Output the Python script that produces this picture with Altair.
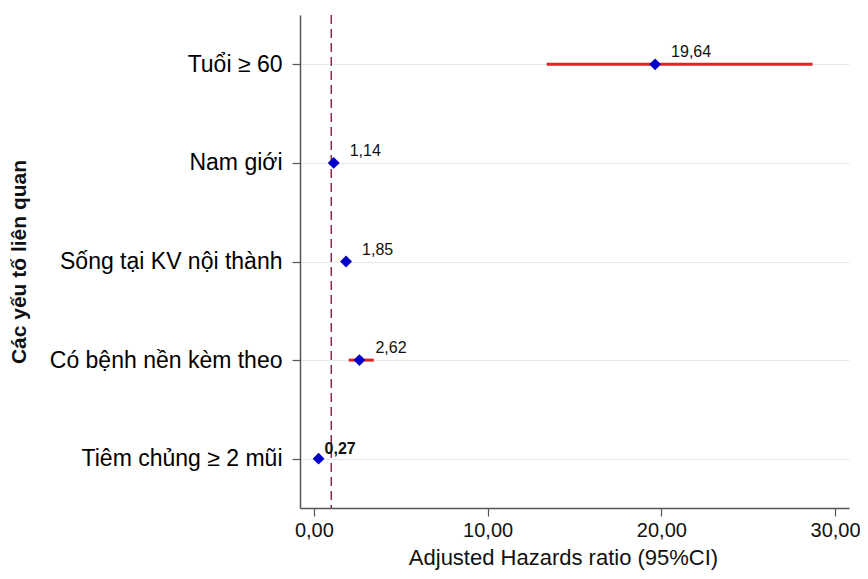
import altair as alt
import pandas as pd

factors = ["Tuổi ≥ 60", "Nam giới", "Sống tại KV nội thành", "Có bệnh nền kèm theo", "Tiêm chủng ≥ 2 mũi"]
hr = [19.64, 1.14, 1.85, 2.62, 0.27]
ci_low = [13.4, 0.88, 1.58, 2.0, 0.14]
ci_high = [28.7, 1.42, 2.14, 3.45, 0.52]
bold_label = [False, False, False, False, True]
ref_line = [1.0]
x_ticks = [0, 10, 20, 30]

df = pd.DataFrame({"factor": factors, "hr": hr, "lo": ci_low, "hi": ci_high, "bold": bold_label})
ref = pd.DataFrame({"ref": ref_line})

FONT = "Liberation Sans"
xscale = alt.Scale(domain=[-0.8, 30.8], nice=False, zero=False)
yscale = alt.Scale(type="point", padding=0.5, domain=factors)

x_axis = alt.Axis(
    values=x_ticks,
    labelExpr="replace(format(datum.value, '.2f'), '.', ',')",
    grid=False,
    tickSize=8,
    labelFontSize=20,
    labelPadding=4,
    title="Adjusted Hazards ratio (95%CI)",
    titleFontSize=22,
    titleFontWeight="normal",
    titlePadding=7,
    titleX=263,
)
y_axis = alt.Axis(
    grid=True,
    gridColor="#e4e9ec",
    gridWidth=1,
    tickSize=8,
    labelFontSize=23,
    labelPadding=10,
    labelLimit=0,
    labelColor="#000000",
    title="Các yếu tố liên quan",
    titleFontSize=21,
    titleFontWeight="bold",
    titleX=-271,
    titleBaseline="bottom",
)

y_enc = alt.Y("factor:N", scale=yscale, sort=factors, axis=y_axis)

base = alt.Chart(df)

ref_rule = alt.Chart(ref).mark_rule(strokeDash=[9, 5], color="#8e2a48", strokeWidth=1.5).encode(
    x=alt.X("ref:Q", scale=xscale, axis=x_axis)
)

ci = base.mark_rule(color="#dc2424", strokeWidth=3).encode(
    y=y_enc,
    x=alt.X("lo:Q", scale=xscale, axis=x_axis),
    x2="hi:Q",
)

pts = base.mark_point(shape="diamond", filled=True, size=140, color="#0000c8", opacity=1).encode(
    y=y_enc,
    x=alt.X("hr:Q", scale=xscale, axis=x_axis),
)

labels = base.transform_calculate(
    label="replace(format(datum.hr, '.2f'), '.', ',')"
).transform_filter("!datum.bold").mark_text(
    align="left", baseline="middle", dx=16, dy=-12, fontSize=16, font=FONT, color="#111111"
).encode(
    y=y_enc,
    x=alt.X("hr:Q", scale=xscale, axis=x_axis),
    text="label:N",
)

labels_bold = base.transform_calculate(
    label="replace(format(datum.hr, '.2f'), '.', ',')"
).transform_filter("datum.bold").mark_text(
    align="left", baseline="middle", dx=6, dy=-10, fontSize=16, fontWeight="bold", font=FONT, color="#111111"
).encode(
    y=y_enc,
    x=alt.X("hr:Q", scale=xscale, axis=x_axis),
    text="label:N",
)

chart = alt.layer(ref_rule, ci, pts, labels, labels_bold).properties(
    width=549,
    height=493,
    autosize=alt.AutoSizeParams(type="none"),
    padding={"left": 292, "top": 7, "right": 11, "bottom": 63},
).configure_axis(
    domainColor="#555555",
    domainWidth=1.5,
    tickColor="#555555",
    tickWidth=1.2,
    labelFont=FONT,
    titleFont=FONT,
    labelColor="#111111",
    titleColor="#111111",
).configure_view(stroke=None)

chart.save("out.html", embed_options={"renderer": "svg", "actions": False})
